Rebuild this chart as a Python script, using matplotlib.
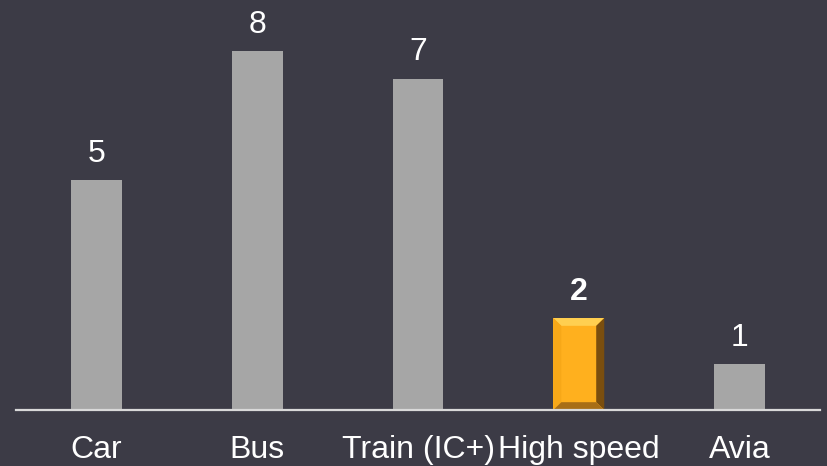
import matplotlib
matplotlib.use("Agg")
import matplotlib.pyplot as plt
from matplotlib.patches import Polygon

# data
categories = ["Car", "Bus", "Train (IC+)", "High speed", "Avia"]
heights = [5.0, 7.8, 7.2, 2.0, 1.0]
labels = ["5", "8", "7", "2", "1"]
highlight = 3

bg = "#3c3b46"
grey = "#a6a6a6"

plt.rcParams['font.family'] = ['Liberation Sans', 'DejaVu Sans']

fig = plt.figure(figsize=(8.27, 4.66), dpi=100, facecolor=bg)
ax = fig.add_axes([0, 0, 1, 1])
ax.set_facecolor(bg)

x = list(range(len(categories)))
width = 0.317
colors = [grey] * len(categories)
colors[highlight] = "#ffb01e"
bars = ax.bar(x, heights, width=width, color=colors, zorder=2)

# bevel on the highlighted bar
b = bars[highlight]
x0, y0 = b.get_x(), b.get_y()
x1, y1 = x0 + b.get_width(), y0 + b.get_height()
dx, dy = 0.05, 0.17
ix0, ix1, iy0, iy1 = x0 + dx, x1 - dx, y0 + dy, y1 - dy
bevels = [
    ([(x0, y1), (x1, y1), (ix1, iy1), (ix0, iy1)], "#ffcf50"),   # top
    ([(x0, y0), (x0, y1), (ix0, iy1), (ix0, iy0)], "#f7a818"),   # left
    ([(x1, y0), (x1, y1), (ix1, iy1), (ix1, iy0)], "#7a4e0e"),   # right
    ([(x0, y0), (x1, y0), (ix1, iy0), (ix0, iy0)], "#a86e16"),   # bottom
]
for pts, c in bevels:
    ax.add_patch(Polygon(pts, closed=True, facecolor=c, edgecolor="none", zorder=3))

for i, (h, lab) in enumerate(zip(heights, labels)):
    ax.annotate(lab, (i, h), xytext=(0, 19), textcoords="offset points",
                ha="center", va="center", color="white", fontsize=23,
                fontweight="bold" if i == highlight else "normal")
    ax.text(i, -0.88, categories[i], ha="center", va="center",
            color="white", fontsize=23)

ax.plot([-0.5, 4.5], [0, 0], color="#d9d9d9", lw=1.6, zorder=4)

ax.set_xlim(-0.6, 4.544)
ax.set_ylim(-1.217, 8.913)
ax.axis("off")

fig.savefig("out.png", dpi=100, facecolor=bg)
